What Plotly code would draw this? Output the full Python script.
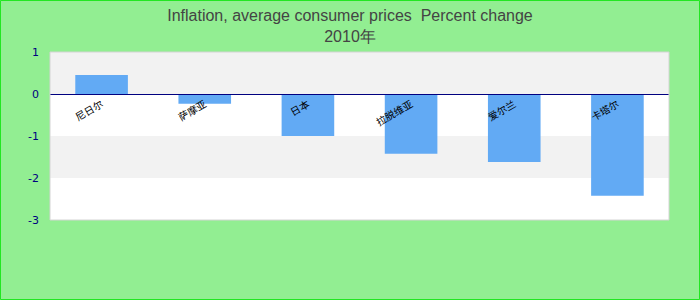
import plotly.graph_objects as go

# 2010 average consumer price inflation, percent change
countries = ["尼日尔", "萨摩亚", "日本", "拉脱维亚", "爱尔兰", "卡塔尔"]
inflation = [0.45, -0.23, -1.0, -1.42, -1.62, -2.42]
y_ticks = [1, 0, -1, -2, -3]
y_tick_text = ["1", "0", "-1", "-2", "-3"]

W, H = 700, 300
L, R, T, B = 50, 31, 52, 80
pw, ph = W - L - R, H - T - B

fig = go.Figure(
    go.Bar(
        x=countries,
        y=inflation,
        marker=dict(color="#62aaf4", line=dict(width=0)),
        width=0.51,
    )
)

# alternating horizontal bands between grid lines
shapes = []
for i, (hi, lo) in enumerate(zip(y_ticks[:-1], y_ticks[1:])):
    if i % 2 == 0:
        shapes.append(dict(type="rect", xref="x domain", yref="y",
                           x0=0, x1=1, y0=lo, y1=hi,
                           fillcolor="#f2f2f2", line=dict(width=0), layer="below"))
# plot area frame
shapes.append(dict(type="rect", xref="x domain", yref="y domain",
                   x0=0, x1=1, y0=0, y1=1,
                   line=dict(color="#d4d4d4", width=1), layer="above"))
# outer page border
shapes.append(dict(type="rect", xref="paper", yref="paper",
                   x0=-(L - 0.5) / pw, x1=1 + (R - 0.5) / pw,
                   y0=-(B - 0.5) / ph, y1=1 + (T - 0.5) / ph,
                   line=dict(color="#22e622", width=1), layer="above"))

ymin, ymax = min(y_ticks), max(y_ticks)
zero_pos = (0 - ymin) / (ymax - ymin)

fig.update_layout(
    width=W, height=H,
    margin=dict(l=L, r=R, t=T, b=B),
    paper_bgcolor="#92ee92",
    plot_bgcolor="#ffffff",
    showlegend=False,
    bargap=0.49,
    title=dict(
        text="Inflation, average consumer prices  Percent change<br>2010年",
        x=0.5, xanchor="center",
        yref="container", y=1 - 21 / H, yanchor="middle",
        font=dict(family="Liberation Sans, Arial", size=16, color="#444444"),
    ),
    xaxis=dict(
        anchor="free", position=zero_pos,
        showline=True, linecolor="#000080", linewidth=1,
        showgrid=False, zeroline=False,
        ticks="", tickangle=-30,
        tickfont=dict(family="Noto Sans CJK SC", size=10, color="#000000"),
    ),
    yaxis=dict(
        range=[ymin, ymax],
        tickvals=y_ticks, ticktext=y_tick_text,
        showgrid=False, zeroline=False,
        ticks="", ticklabelstandoff=10,
        tickfont=dict(family="DejaVu Sans", size=11, color="#000080"),
    ),
    shapes=shapes,
)

fig.write_html("out.html")
